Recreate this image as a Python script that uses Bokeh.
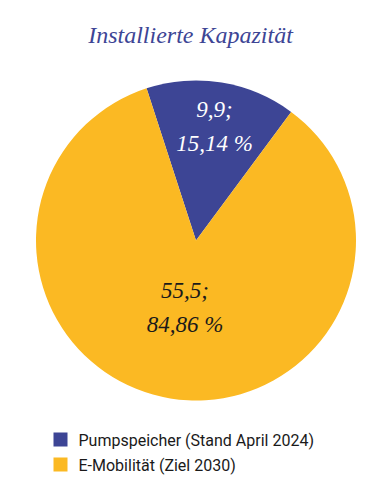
import numpy as np
from bokeh.plotting import figure
from bokeh.models import Range1d, ColumnDataSource
from bokeh.core.properties import value
from bokeh.embed import file_html
from bokeh.resources import INLINE

# Data
categories = ["Pumpspeicher (Stand April 2024)", "E-Mobilität (Ziel 2030)"]
values = [9.9, 55.5]
colors = ["#3d4595", "#fbb923"]
label_colors = ["#ffffff", "#1a1a1a"]
title_text = "Installierte Kapazität"

W, H = 380, 489
p = figure(width=W, height=H, output_backend="svg", toolbar_location=None,
           x_range=Range1d(0, W), y_range=Range1d(0, H), min_border=0)
p.axis.visible = False
p.grid.visible = False
p.outline_line_color = None
p.background_fill_color = "white"
p.border_fill_color = "white"

def Y(py):
    return H - py

cx, cy, r = 195.5, Y(240), 160
total = sum(values)
fracs = [v / total for v in values]
start0 = np.deg2rad(108.0)
ends = []
starts = []
a = start0
for f in fracs:
    starts.append(a)
    a = a - f * 2 * np.pi
    ends.append(a)

src = ColumnDataSource(dict(x=[cx]*2, y=[cy]*2, start=ends, end=starts, color=colors))
p.wedge(x="x", y="y", radius=r, start_angle="start", end_angle="end",
        fill_color="color", line_color=None, source=src)

# labels
def fmt(v):
    return ("%.1f" % v).replace(".", ",")
def fmtp(v):
    return ("%.2f" % v).replace(".", ",") + " %"

label_r = [115, 68]
lx, ly1, ly2, ltxt1, ltxt2 = [], [], [], [], []
for i, v in enumerate(values):
    mid = (starts[i] + ends[i]) / 2
    x = cx + label_r[i] * np.cos(mid)
    y = cy + label_r[i] * np.sin(mid)
    lx.append(x)
    ly1.append(y + 17)
    ly2.append(y - 17)
    ltxt1.append(fmt(v) + ";")
    ltxt2.append(fmtp(fracs[i] * 100))

for ys, ts in ((ly1, ltxt1), (ly2, ltxt2)):
    p.text(x=lx, y=ys, text=ts, text_color=label_colors,
           text_font=value("Liberation Serif"), text_font_style="italic",
           text_font_size="23px", text_align="center", text_baseline="middle")

# title
p.text(x=[190], y=[Y(34)], text=[title_text], text_color=colors[0],
       text_font=value("Liberation Serif"), text_font_style="italic",
       text_font_size="24px", text_align="center", text_baseline="middle")

# legend
leg_y = [Y(439), Y(464)]
p.rect(x=[60]*2, y=leg_y, width=14, height=14, fill_color=colors, line_color=None)
p.text(x=[78]*2, y=[yy - 1 for yy in leg_y], text=categories, text_color="#1a1a1a",
       text_font=value("Roboto"), text_font_size="16px",
       text_align="left", text_baseline="middle")

open("out.html", "w").write(file_html(p, INLINE))
